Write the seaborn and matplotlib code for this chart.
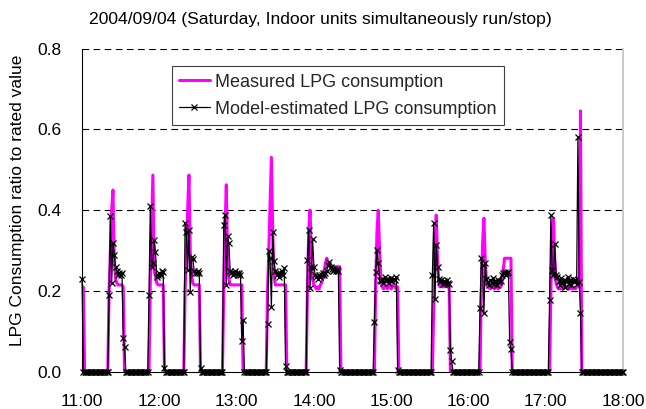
import numpy as np
import pandas as pd
import matplotlib
matplotlib.use("Agg")
import matplotlib.pyplot as plt
import seaborn as sns

# ---- data (minutes after 11:00, 1-minute resolution) ----
minutes = np.arange(0, 421)
tick_minutes = [0, 60, 120, 180, 240, 300, 360, 420]
tick_labels = ["11:00", "12:00", "13:00", "14:00", "15:00", "16:00", "17:00", "18:00"]

# measured LPG consumption: on-periods (start minute, values); zero elsewhere
meas_starts = [0, 21, 53, 80, 110, 144, 175, 228, 273, 310, 364]
meas_b0 = [0.21, 0.21]
meas_b1 = [0.20, 0.30, 0.40, 0.45, 0.28, 0.23, 0.22, 0.215, 0.215, 0.215, 0.215, 0.21]
meas_b2 = [0.22, 0.35, 0.487, 0.25, 0.235, 0.22, 0.215, 0.215, 0.215, 0.215, 0.215]
meas_b3 = [0.20, 0.30, 0.40, 0.487, 0.30, 0.24, 0.22, 0.215, 0.215, 0.215, 0.215, 0.215]
meas_b4 = [0.20, 0.35, 0.463, 0.28, 0.23, 0.215, 0.215, 0.215, 0.215, 0.215,
           0.215, 0.215, 0.215, 0.215, 0.215]
meas_b5 = [0.20, 0.30, 0.42, 0.531, 0.35, 0.24, 0.215, 0.215, 0.215, 0.215,
           0.215, 0.215, 0.215, 0.215, 0.215]
meas_b6 = [0.20, 0.35, 0.40, 0.30, 0.23, 0.215, 0.21, 0.205, 0.21, 0.205,
           0.215, 0.22, 0.23, 0.25, 0.27, 0.281, 0.27, 0.26, 0.26, 0.26,
           0.26, 0.26, 0.26, 0.26, 0.26, 0.26]
meas_b7 = [0.22, 0.35, 0.40, 0.30, 0.23, 0.21, 0.205, 0.21, 0.215, 0.205,
           0.21, 0.215, 0.205, 0.21, 0.215, 0.21, 0.205, 0.21]
meas_b8 = [0.15, 0.30, 0.388, 0.28, 0.22, 0.21, 0.215, 0.21, 0.215, 0.21,
           0.215, 0.21, 0.215]
meas_b9 = [0.20, 0.32, 0.38, 0.28, 0.22, 0.21, 0.21, 0.205, 0.21, 0.21,
           0.205, 0.21, 0.21, 0.205, 0.21, 0.21, 0.22, 0.25, 0.281, 0.281,
           0.281, 0.281, 0.281, 0.281]
meas_b10 = [0.20, 0.33, 0.38, 0.28, 0.22, 0.21, 0.205, 0.21, 0.205, 0.21,
            0.205, 0.21, 0.21, 0.205, 0.21, 0.205, 0.21, 0.205, 0.21, 0.205,
            0.21, 0.21, 0.21, 0.646]
meas_blocks = [meas_b0, meas_b1, meas_b2, meas_b3, meas_b4, meas_b5,
               meas_b6, meas_b7, meas_b8, meas_b9, meas_b10]

# model-estimated LPG consumption
model_starts = [0, 21, 52, 80, 110, 144, 175, 227, 272, 309, 363]
model_b0 = [0.23]
model_b1 = [0.19, 0.386, 0.22, 0.32, 0.29, 0.26, 0.25, 0.24, 0.245, 0.24, 0.245, 0.083, 0.062]
model_b2 = [0.19, 0.41, 0.26, 0.27, 0.326, 0.297, 0.235, 0.24, 0.245, 0.24, 0.25, 0.248, 0.01]
model_b3 = [0.368, 0.347, 0.252, 0.351, 0.198, 0.284, 0.28, 0.25, 0.245, 0.245, 0.25, 0.245, 0.008]
model_b4 = [0.364, 0.388, 0.215, 0.335, 0.318, 0.25, 0.245, 0.24, 0.245, 0.25,
            0.245, 0.24, 0.245, 0.24, 0.077, 0.128]
model_b5 = [0.118, 0.30, 0.281, 0.16, 0.345, 0.273, 0.25, 0.24, 0.245, 0.235,
            0.245, 0.25, 0.24, 0.256, 0.015]
model_b6 = [0.277, 0.351, 0.207, 0.26, 0.328, 0.26, 0.24, 0.235, 0.23, 0.24,
            0.235, 0.24, 0.245, 0.24, 0.245, 0.25, 0.265, 0.272, 0.26, 0.255,
            0.25, 0.255, 0.25, 0.255, 0.25, 0.004]
model_b7 = [0.124, 0.248, 0.302, 0.268, 0.227, 0.225, 0.23, 0.22, 0.235, 0.225,
            0.23, 0.22, 0.228, 0.232, 0.225, 0.23, 0.228, 0.235, 0.004]
model_b8 = [0.24, 0.369, 0.179, 0.314, 0.26, 0.23, 0.222, 0.227, 0.218, 0.225,
            0.22, 0.227, 0.22, 0.218, 0.054, 0.027]
model_b9 = [0.157, 0.281, 0.264, 0.146, 0.268, 0.23, 0.222, 0.215, 0.228, 0.22,
            0.231, 0.218, 0.225, 0.215, 0.228, 0.222, 0.225, 0.24, 0.245, 0.248,
            0.24, 0.245, 0.248, 0.074, 0.055]
model_b10 = [0.178, 0.387, 0.252, 0.24, 0.316, 0.24, 0.235, 0.225, 0.215, 0.232,
             0.22, 0.228, 0.211, 0.225, 0.235, 0.218, 0.227, 0.215, 0.23, 0.222,
             0.228, 0.218, 0.582, 0.223, 0.145]
model_blocks = [model_b0, model_b1, model_b2, model_b3, model_b4, model_b5,
                model_b6, model_b7, model_b8, model_b9, model_b10]


def assemble(starts, blocks):
    series = np.zeros(len(minutes))
    for s, vals in zip(starts, blocks):
        series[s:s + len(vals)] = vals
    return series


measured = assemble(meas_starts, meas_blocks)
model = assemble(model_starts, model_blocks)
df = pd.DataFrame({"minute": minutes, "measured": measured, "model": model})

# ---- plot ----
sns.set_theme(style="white")
plt.rcParams["font.family"] = ["Liberation Sans", "DejaVu Sans"]

fig = plt.figure(figsize=(6.46, 4.09), dpi=100)
ax = fig.add_axes([0.127, 0.0912, 0.8374, 0.7897])

sns.lineplot(data=df, x="minute", y="measured", ax=ax, color="#ff00ff",
             linewidth=2.2, label="Measured LPG consumption", zorder=2)
sns.lineplot(data=df, x="minute", y="model", ax=ax, color="black",
             linewidth=0.9, marker="x", markersize=4.5, markeredgewidth=0.9,
             markeredgecolor="black", label="Model-estimated LPG consumption",
             zorder=3, clip_on=False)

ax.set_xlim(0, 420)
ax.set_ylim(0, 0.8)
ax.set_xticks(tick_minutes)
ax.set_xticklabels(tick_labels)
ax.set_yticks([0.0, 0.2, 0.4, 0.6, 0.8])
ax.set_yticklabels(["0.0", "0.2", "0.4", "0.6", "0.8"])
ax.tick_params(axis="both", labelsize=12.5, colors="black")
ax.tick_params(axis="x", direction="in", length=4, width=0.8, pad=16)
ax.tick_params(axis="y", direction="out", length=4, width=0.8, pad=11)

for yv in [0.2, 0.4, 0.6, 0.8]:
    ax.axhline(yv, color="black", linestyle=(0, (6, 4)), linewidth=0.8, zorder=1)

ax.spines["top"].set_visible(False)
ax.spines["right"].set_color("#c0c0c0")
ax.spines["right"].set_linewidth(1.2)
ax.spines["left"].set_color("black")
ax.spines["bottom"].set_color("black")
ax.spines["left"].set_linewidth(0.8)
ax.spines["bottom"].set_linewidth(0.8)

ax.set_xlabel("")
ax.set_ylabel("LPG Consumption ratio to rated value", fontsize=12.5, color="black")
ax.yaxis.set_label_coords(-0.105, 0.53)

fig.suptitle("2004/09/04 (Saturday, Indoor units simultaneously run/stop)",
             x=0.496, y=0.97, fontsize=12.6, color="black")

leg = ax.legend(loc="upper left", bbox_to_anchor=(0.166, 0.945), fontsize=13,
                frameon=True, fancybox=False, framealpha=1, edgecolor="#404040",
                borderpad=0.4, labelspacing=0.55, handlelength=1.7,
                handletextpad=0.3, borderaxespad=0)
leg.get_frame().set_linewidth(0.8)

fig.savefig("out.png", dpi=100)
